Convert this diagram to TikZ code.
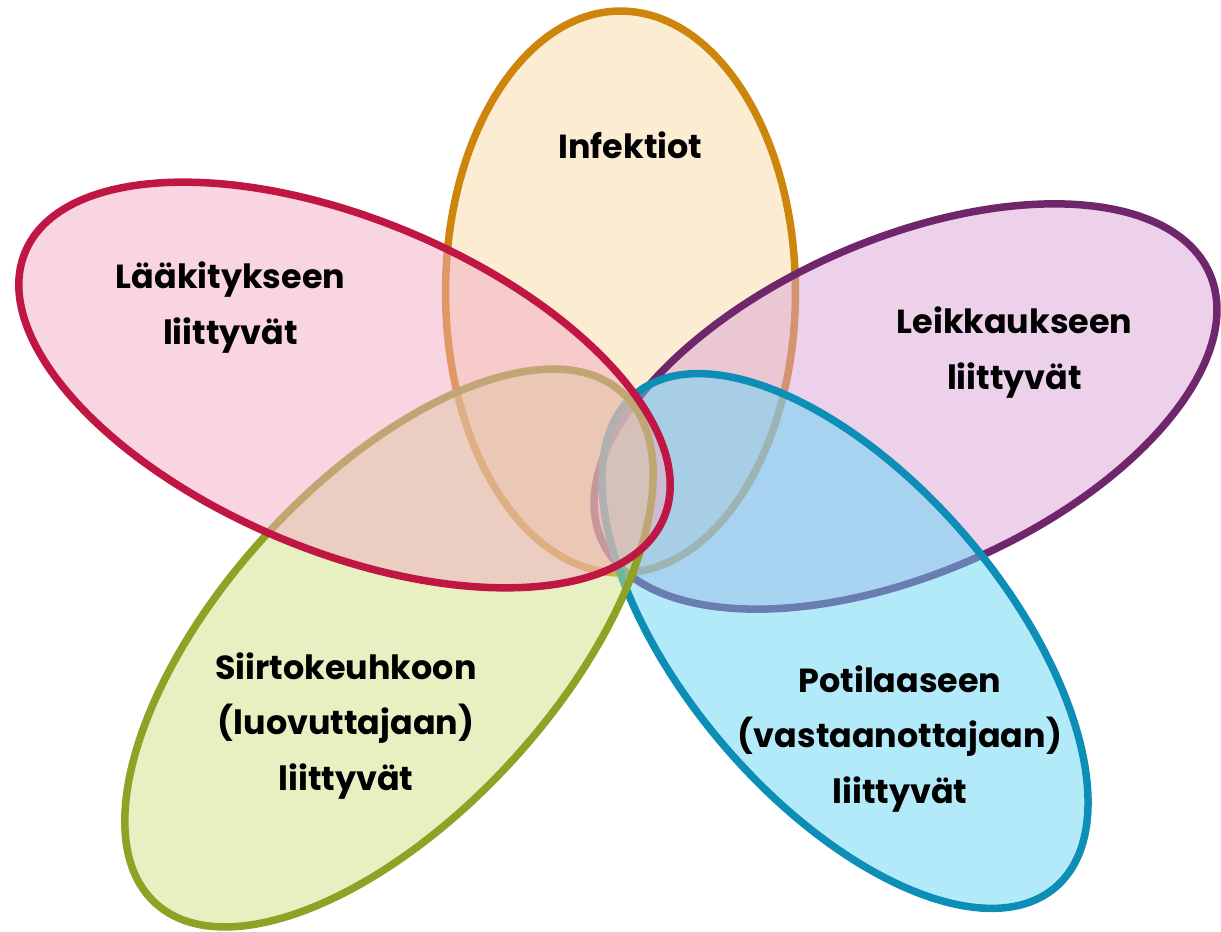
\documentclass[tikz,border=0pt]{standalone}
\usepackage{fontspec}
\newfontfamily\petalfont{Poppins}
\usepackage{tikz}
\usetikzlibrary{shapes.geometric}

\definecolor{infline}{RGB}{205,133,12}
\definecolor{inffill}{RGB}{249,217,165}
\definecolor{laaline}{RGB}{192,22,68}
\definecolor{laafill}{RGB}{241,171,193}
\definecolor{leikline}{RGB}{112,38,107}
\definecolor{leikfill}{RGB}{219,163,215}
\definecolor{potline}{RGB}{12,142,182}
\definecolor{potfill}{RGB}{101,213,245}
\definecolor{siirline}{RGB}{142,162,38}
\definecolor{siirfill}{RGB}{209,225,133}

\tikzset{
  petal/.style={ellipse,inner sep=0pt,line width=0.15cm,fill opacity=0.5},
  lbl/.style={font=\petalfont\bfseries\fontsize{19}{31.5}\selectfont,align=center}
}

\begin{document}
\begin{tikzpicture}[x=0.02cm,y=-0.02cm]
\useasboundingbox (0,0) rectangle (1221,932);
% petals, back to front
\node[petal,draw=infline,fill=inffill,minimum width=7.00cm,minimum height=11.24cm] (infektiot) at (620.5,292) {};
\node[petal,draw=leikline,fill=leikfill,minimum width=13.28cm,minimum height=6.68cm,rotate=23.6] (leikkaus) at (905.5,406.5) {};
\node[petal,draw=potline,fill=potfill,minimum width=12.96cm,minimum height=6.40cm,rotate=-49.5] (potilas) at (845,641) {};
\node[petal,draw=siirline,fill=siirfill,minimum width=13.84cm,minimum height=6.68cm,rotate=47.5] (siirto) at (389,648) {};
\node[petal,draw=laaline,fill=laafill,minimum width=13.84cm,minimum height=6.64cm,rotate=-22.6] (laakitys) at (344.5,385) {};

% labels
\node[lbl] (infektiot-txt) at (630.5,145) {Infektiot};
\node[lbl] (laakitys-txt) at (230.5,307.5) {Lääkitykseen\\liittyvät};
\node[lbl] (leikkaus-txt) at (1014.5,352.5) {Leikkaukseen\\liittyvät};
\node[lbl] (siirto-txt) at (346,726) {Siirtokeuhkoon\\(luovuttajaan)\\liittyvät};
\node[lbl] (potilas-txt) at (900,739) {Potilaaseen\\(vastaanottajaan)\\liittyvät};
\end{tikzpicture}
\end{document}
